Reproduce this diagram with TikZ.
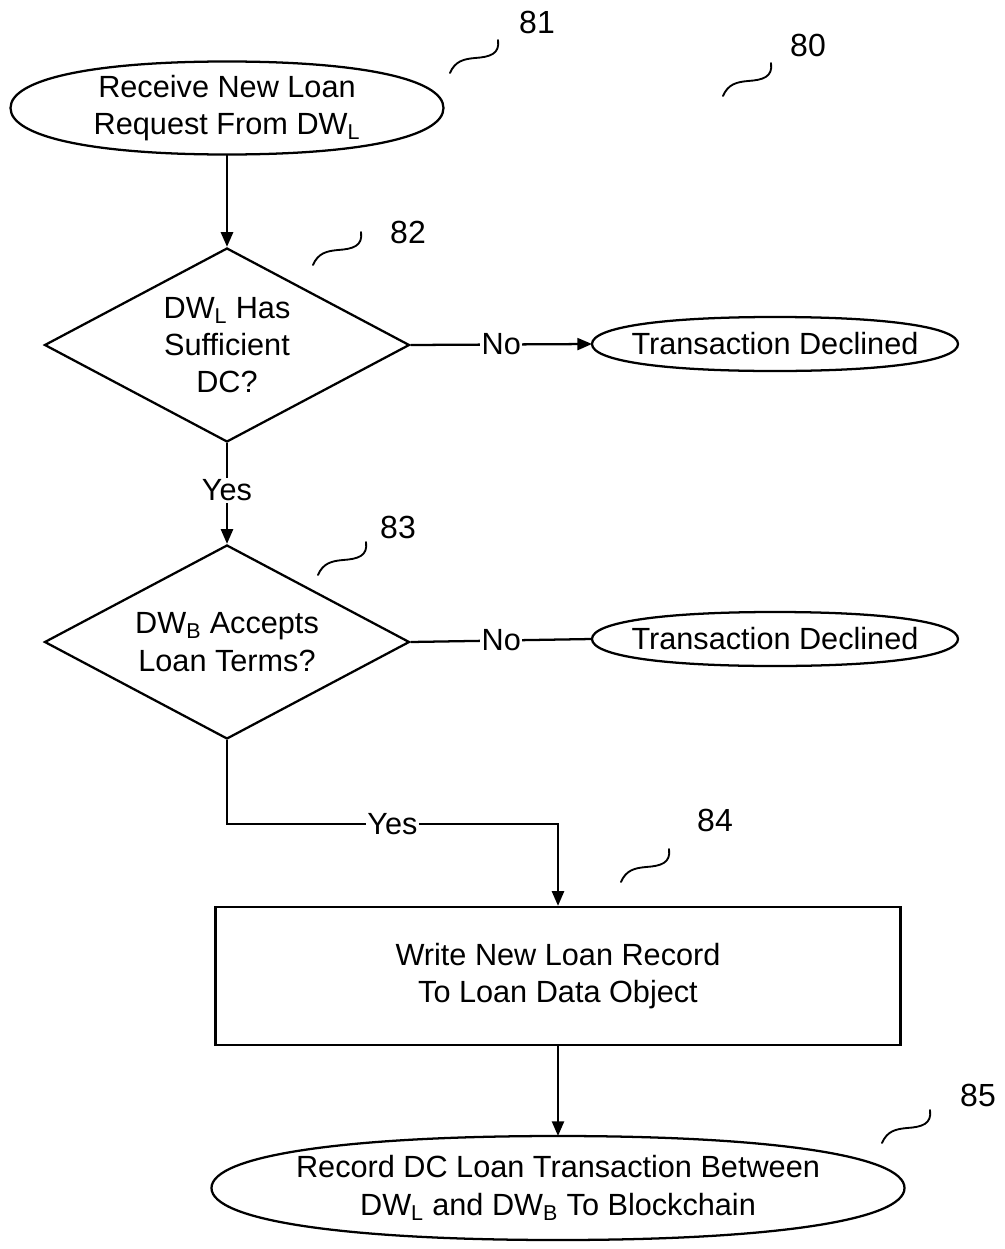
\documentclass[tikz,border=0pt]{standalone}
\usepackage{fontspec}
\setmainfont{Liberation Sans}
\usetikzlibrary{shapes.geometric,arrows.meta,calc}
\newcommand\termoutline[1]{%
  \draw[termline]
    (#1.west) .. controls ($(#1.west)!0.62!(#1.north west)$) and ($(#1.north)!0.62!(#1.north west)$) .. (#1.north)
    .. controls ($(#1.north)!0.62!(#1.north east)$) and ($(#1.east)!0.62!(#1.north east)$) .. (#1.east)
    .. controls ($(#1.east)!0.62!(#1.south east)$) and ($(#1.south)!0.62!(#1.south east)$) .. (#1.south)
    .. controls ($(#1.south)!0.62!(#1.south west)$) and ($(#1.west)!0.62!(#1.south west)$) .. (#1.west) -- cycle;}
\begin{document}
\begin{tikzpicture}[x=0.75pt,y=-0.75pt,
  txt/.style={font=\fontsize{23}{28}\selectfont, align=center},
  term/.style={txt, rectangle, inner sep=0pt, outer sep=0pt},
  termline/.style={line width=1.7pt},
  dec/.style={txt, draw, diamond, aspect=1.88, line width=1.7pt, inner sep=0pt,
    minimum width=273.75pt, minimum height=145.5pt},
  procbox/.style={txt, draw, rectangle, line width=1.7pt, inner sep=0pt,
    minimum width=513.75pt, minimum height=103.5pt},
  conn/.style={line width=1.7pt},
  arr/.style={conn, -{Triangle[length=11pt, width=9pt]}},
  lbl/.style={txt, fill=white, inner sep=1pt},
  refnum/.style={font=\fontsize{24}{28}\selectfont},
  squig/.pic={\draw[line width=1.4pt, line cap=round]
    (0,0) .. controls (5,-12) and (14,-14) .. (25,-15)
          .. controls (40,-16) and (50,-19) .. (48,-33);}
  ]
\useasboundingbox (0,0) rectangle (1005,1249);

% nodes
\node[term, minimum width=324.75pt, minimum height=69.75pt] (start) at (227,108)
  {Receive New Loan\\Request From DW\textsubscript{L}};
\node[dec] (d1) at (227,345) {DW\textsubscript{L} Has\\Sufficient\\DC?};
\node[term, minimum width=274.5pt, minimum height=40.5pt] (dec1) at (775,344)
  {Transaction Declined};
\node[dec] (d2) at (227,642) {DW\textsubscript{B} Accepts\\Loan Terms?};
\node[term, minimum width=274.5pt, minimum height=40.5pt] (dec2) at (775,639)
  {Transaction Declined};
\node[procbox] (write) at (558,976) {Write New Loan Record\\To Loan Data Object};
\node[term, minimum width=519.75pt, minimum height=78pt] (rec) at (558,1188)
  {Record DC Loan Transaction Between\\DW\textsubscript{L} and DW\textsubscript{B} To Blockchain};
\coordinate (yesbend) at (227,824);

\termoutline{start}
\termoutline{dec1}
\termoutline{dec2}
\termoutline{rec}

% connectors
\draw[arr, line width=2pt] (start.south) -- (d1.north);
\draw[arr] (d1.east) -- node[lbl, pos=0.5]{No} (dec1.west);
\draw[arr] (d1.south) -- node[lbl, pos=0.47]{Yes} (d2.north);
\draw[conn] (d2.east) -- node[lbl, pos=0.5]{No} (dec2.west);
\draw[arr] (d2.south) -- (yesbend) -| node[lbl, pos=0.25]{Yes} (write.north);
\draw[arr] (write.south) -- (rec.north);

% reference numerals
\node[refnum] (n81) at (537,22) {81};
\node[refnum] (n80) at (808,45) {80};
\node[refnum] (n82) at (408,232) {82};
\node[refnum] (n83) at (398,527) {83};
\node[refnum] (n84) at (715,820) {84};
\node[refnum] (n85) at (978,1095) {85};
\pic at (450,73) {squig};
\pic at (723,96) {squig};
\pic at (313,265) {squig};
\pic at (318,575) {squig};
\pic at (621,882) {squig};
\pic at (882,1143) {squig};
\end{tikzpicture}
\end{document}
